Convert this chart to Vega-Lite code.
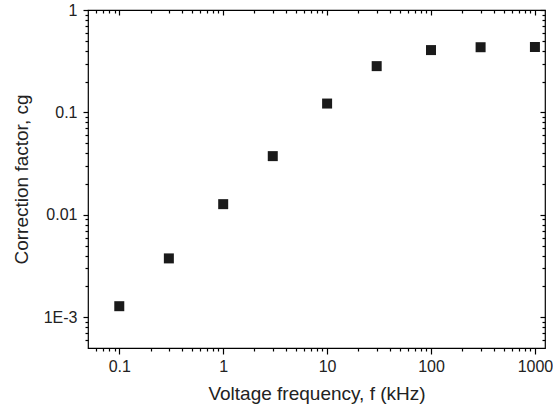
{
  "$schema": "https://vega.github.io/schema/vega-lite/v6.json",
  "width": 457,
  "height": 338,
  "autosize": "none",
  "padding": {"left": 88, "top": 10, "right": 8, "bottom": 67},
  "background": "white",
  "data": {"values": [
    {"f": 0.1, "c": 0.00128},
    {"f": 0.3, "c": 0.00375},
    {"f": 1, "c": 0.0127},
    {"f": 3, "c": 0.0374},
    {"f": 10, "c": 0.122},
    {"f": 30, "c": 0.283},
    {"f": 100, "c": 0.406},
    {"f": 300, "c": 0.433},
    {"f": 1000, "c": 0.435}
  ]},
  "resolve": {"axis": {"x": "independent", "y": "independent"}},
  "layer": [
    {
      "mark": {"type": "square", "size": 100, "color": "#1a1a1a", "opacity": 1},
      "encoding": {
        "x": {
          "field": "f", "type": "quantitative",
          "scale": {"type": "log", "domain": [0.05, 1250], "nice": false},
          "axis": {
            "orient": "bottom",
            "title": "Voltage frequency, f (kHz)",
            "values": [0.1, 1, 10, 100, 1000],
            "format": "~g",
            "tickSize": 6,
            "labelPadding": 4,
            "titlePadding": 10
          }
        },
        "y": {
          "field": "c", "type": "quantitative",
          "scale": {"type": "log", "domain": [0.0005, 1], "nice": false},
          "axis": {
            "orient": "left",
            "title": "Correction factor, cg",
            "values": [0.001, 0.01, 0.1, 1],
            "labelExpr": "datum.value == 1 ? '1' : datum.value == 0.1 ? '0.1' : datum.value == 0.01 ? '0.01' : '1E-3'",
            "tickSize": 5,
            "labelPadding": 6,
            "titlePadding": 12
          }
        }
      }
    },
    {
      "mark": {"type": "square", "size": 100, "opacity": 0},
      "encoding": {
        "x": {
          "field": "f", "type": "quantitative",
          "axis": {
            "orient": "bottom", "title": null, "labels": false, "tickSize": 3,
            "values": [0.06,0.07,0.08,0.09,0.2,0.3,0.4,0.5,0.6,0.7,0.8,0.9,2,3,4,5,6,7,8,9,20,30,40,50,60,70,80,90,200,300,400,500,600,700,800,900]
          }
        },
        "y": {
          "field": "c", "type": "quantitative",
          "axis": {
            "orient": "left", "title": null, "labels": false, "tickSize": 3,
            "values": [0.0006,0.0007,0.0008,0.0009,0.002,0.003,0.004,0.005,0.006,0.007,0.008,0.009,0.02,0.03,0.04,0.05,0.06,0.07,0.08,0.09,0.2,0.3,0.4,0.5,0.6,0.7,0.8,0.9]
          }
        }
      }
    },
    {
      "mark": {"type": "square", "size": 100, "opacity": 0},
      "encoding": {
        "x": {
          "field": "f", "type": "quantitative",
          "axis": {
            "orient": "top", "title": null, "labels": false, "tickSize": 5, "offset": -5,
            "values": [0.1, 1, 10, 100, 1000]
          }
        },
        "y": {
          "field": "c", "type": "quantitative",
          "axis": {
            "orient": "right", "title": null, "labels": false, "tickSize": 5, "offset": -5,
            "values": [0.001, 0.01, 0.1, 1]
          }
        }
      }
    },
    {
      "mark": {"type": "square", "size": 100, "opacity": 0},
      "encoding": {
        "x": {
          "field": "f", "type": "quantitative",
          "axis": {
            "orient": "top", "title": null, "labels": false, "tickSize": 3, "offset": -3,
            "values": [0.06,0.07,0.08,0.09,0.2,0.3,0.4,0.5,0.6,0.7,0.8,0.9,2,3,4,5,6,7,8,9,20,30,40,50,60,70,80,90,200,300,400,500,600,700,800,900]
          }
        },
        "y": {
          "field": "c", "type": "quantitative",
          "axis": {
            "orient": "right", "title": null, "labels": false, "tickSize": 3, "offset": -3,
            "values": [0.0006,0.0007,0.0008,0.0009,0.002,0.003,0.004,0.005,0.006,0.007,0.008,0.009,0.02,0.03,0.04,0.05,0.06,0.07,0.08,0.09,0.2,0.3,0.4,0.5,0.6,0.7,0.8,0.9]
          }
        }
      }
    }
  ],
  "config": {
    "view": {"stroke": "#000000", "strokeWidth": 1.2},
    "font": "Liberation Sans",
    "axis": {
      "grid": false,
      "domain": false,
      "tickColor": "#000000",
      "tickWidth": 1.2,
      "labelFont": "Liberation Sans",
      "labelFontSize": 16,
      "labelColor": "#222222",
      "titleFont": "Liberation Sans",
      "titleFontSize": 19,
      "titleFontWeight": "normal",
      "titleColor": "#222222",
      "labelOverlap": false,
      "labelFlush": false
    }
  }
}
